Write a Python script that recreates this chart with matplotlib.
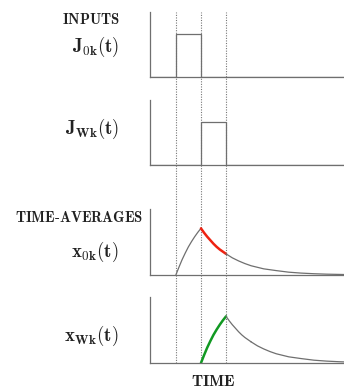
"""Inputs and time-averages timing diagram."""
import numpy as np
import matplotlib
matplotlib.use("Agg")
import matplotlib.pyplot as plt

plt.rcParams["mathtext.fontset"] = "cm"
plt.rcParams["font.family"] = "serif"
plt.rcParams["font.serif"] = ["DejaVu Serif"]

# ---------- data (time in pulse-widths, heights in pulse units) ----------
t_edges = [1, 2, 3]                      # dotted guide lines
J0_t = [-0.05, 1, 1, 2, 2, 7.7]
J0_v = [0, 0, 1, 1, 0, 0]
JW_t = [-0.05, 2, 2, 3, 3, 7.7]
JW_v = [0, 0, 1, 1, 0, 0]

rise_t = [0, 0.125, 0.25, 0.375, 0.5, 0.625, 0.75, 0.875, 1.0]
rise_v = [0, 0.18, 0.35, 0.50, 0.64, 0.76, 0.87, 0.97, 1.06]
decay_t = [0, 0.125, 0.25, 0.375, 0.5, 0.625, 0.75, 0.875, 1.0,
           1.25, 1.5, 1.75, 2.0, 2.5, 3.0, 3.5, 4.0, 4.5, 5.0, 5.7]
decay_v = [1.06, 0.96, 0.87, 0.79, 0.71, 0.64, 0.58, 0.53, 0.48,
           0.39, 0.32, 0.26, 0.21, 0.14, 0.10, 0.064, 0.043, 0.029, 0.019, 0.011]
x0_on, xW_on = 1.0, 2.0                  # onset of each time-average

W, H = 344, 389
XL = (-0.05, 7.70)
YL = (0, 1.5)
GRAY = "#6f6f6f"

fig = plt.figure(figsize=(W / 100, H / 100), dpi=100)


def px_axes(top, bottom, left=149.5):
    return fig.add_axes([left / W, 1 - bottom / H, 1 - left / W, (bottom - top) / H])


def style(ax):
    ax.set_xlim(*XL); ax.set_ylim(*YL)
    for s in ("top", "right"):
        ax.spines[s].set_visible(False)
    for s in ("left", "bottom"):
        ax.spines[s].set_color(GRAY); ax.spines[s].set_linewidth(0.9)
    ax.set_xticks([]); ax.set_yticks([])
    ax.patch.set_alpha(0)


# guide lines across all panels
guide = px_axes(12, 363)
guide.set_xlim(*XL); guide.axis("off")
for te in t_edges:
    guide.axvline(te, color="#777777", ls=(0, (1, 1.3)), lw=0.8)

panels = [(12, 77), (100, 165), (209, 275), (297, 363)]
axs = [px_axes(a, b) for a, b in panels]
for ax in axs:
    style(ax)

axs[0].plot(J0_t, J0_v, color=GRAY, lw=0.9)
axs[1].plot(JW_t, JW_v, color=GRAY, lw=0.9)

n = 9  # points in the first pulse-width of the decay
for ax, on, rc, dc in ((axs[2], x0_on, GRAY, "#ee2211"), (axs[3], xW_on, "#119922", GRAY)):
    rt = np.array(rise_t) + on
    dt = np.array(decay_t) + on + 1
    ax.plot(rt, rise_v, color=rc, lw=0.9 if rc == GRAY else 1.8, solid_capstyle="round")
    ax.plot(dt[:n], decay_v[:n], color=dc, lw=0.9 if dc == GRAY else 1.8, solid_capstyle="round")
    ax.plot(dt[n - 1:], decay_v[n - 1:], color=GRAY, lw=0.9)

# ---------- labels ----------
def lab(x, y, s, size, ha="right"):
    fig.text(x / W, 1 - y / H, s, ha=ha, va="center", fontsize=size, color="#222222")

lab(120, 19, r"$\mathbf{INPUTS}$", 10.5)
lab(119, 47, r"$\mathbf{J_{0k}(t)}$", 13.5)
lab(119, 129, r"$\mathbf{J_{Wk}(t)}$", 13.5)
lab(143, 218, r"$\mathbf{TIME\text{-}AVERAGES}$", 10.5)
lab(118, 252, r"$\mathbf{x_{0k}(t)}$", 13.5)
lab(118, 336, r"$\mathbf{x_{Wk}(t)}$", 13.5)
lab(213, 381, r"$\mathbf{TIME}$", 11.5, ha="center")

fig.savefig("out.png", dpi=100)
